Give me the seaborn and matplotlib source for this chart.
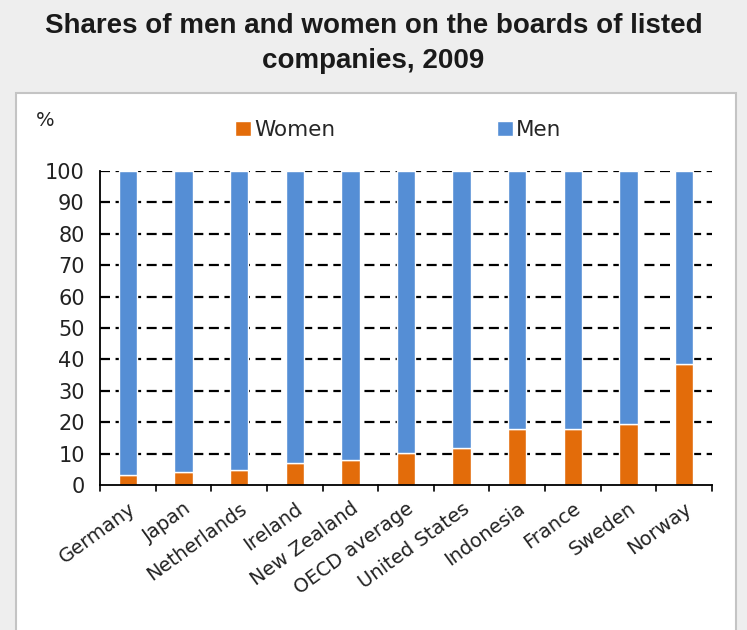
import matplotlib.pyplot as plt
import seaborn as sns
import pandas as pd
from matplotlib.patches import Rectangle, Patch

countries = ["Germany", "Japan", "Netherlands", "Ireland", "New Zealand",
             "OECD average", "United States", "Indonesia", "France",
             "Sweden", "Norway"]
women = [3.3, 4.0, 4.8, 7.1, 7.9, 10.2, 11.7, 17.8, 17.8, 19.5, 38.6]
men = [100 - w for w in women]

ORANGE = "#E36C0A"
BLUE = "#558ED5"

sns.set_style("white")
plt.rcParams["font.family"] = ["DejaVu Sans"]

df = pd.DataFrame({"Country": countries, "Women": women, "Men": men})

fig = plt.figure(figsize=(7.47, 6.3), dpi=100)
fig.patch.set_facecolor("#eeeeee")

# white inner panel
W, H = 747, 630
fig.patches.append(Rectangle((16 / W, -0.01), (736 - 16) / W, (H - 93) / H + 0.01,
                             transform=fig.transFigure, facecolor="white",
                             edgecolor="#c4c4c4", linewidth=1.5, zorder=-5))

title_font = ["Liberation Sans Narrow", "Liberation Sans", "DejaVu Sans"]
fig.text(0.5, 1 - 26 / H, "Shares of men and women on the boards of listed",
         ha="center", va="center", fontsize=20, fontweight="bold",
         family=title_font, color="#1a1a1a")
fig.text(0.5, 1 - 61 / H, "companies, 2009",
         ha="center", va="center", fontsize=20, fontweight="bold",
         family=title_font, color="#1a1a1a")

ax = fig.add_axes([100 / W, 1 - 485 / H, (712 - 100) / W, (485 - 171) / H])
ax.set_facecolor("none")

sns.barplot(data=df, x="Country", y="Women", color=ORANGE, width=0.33,
            saturation=1, ax=ax, zorder=3)
sns.barplot(data=df, x="Country", y="Men", bottom=df["Women"], color=BLUE,
            width=0.33, saturation=1, ax=ax, zorder=3)

ax.set_ylim(0, 100)
ax.set_xlim(-0.5, len(countries) - 0.5)
ax.set_yticks(range(0, 101, 10))
ax.set_xlabel("")
ax.set_ylabel("")
ax.set_xticks(range(len(countries)))
ax.set_xticklabels(countries, rotation=36, ha="right", rotation_mode="anchor",
                   fontsize=14, color="#222222")
ax.tick_params(axis="x", length=0, pad=10)
ax.tick_params(axis="y", labelsize=15, length=5, direction="out",
               width=1.2, colors="#222222", pad=6)

# tick marks between categories
for b in [i - 0.5 for i in range(len(countries) + 1)]:
    ax.plot([b, b], [0, -2.0], color="black", lw=1.2, clip_on=False, zorder=4)

for y in range(10, 101, 10):
    ax.axhline(y, color="black", lw=1.6, ls=(0, (4.5, 2.5)), zorder=2)

for s in ["top", "right"]:
    ax.spines[s].set_visible(False)
for s in ["left", "bottom"]:
    ax.spines[s].set_color("black")
    ax.spines[s].set_linewidth(1.3)
ax.spines["bottom"].set_zorder(5)

fig.text(36 / W, 1 - 121 / H, "%", fontsize=14, ha="left", va="center",
         color="#222222")

handles = [Patch(facecolor=ORANGE), Patch(facecolor=BLUE)]
fig.legend(handles, ["Women", "Men"], loc="center",
           bbox_to_anchor=(398 / W, 1 - 130 / H), ncol=2, frameon=False,
           fontsize=15.5, handlelength=0.75, handleheight=0.75,
           handletextpad=0.15, columnspacing=7.5)

fig.savefig("out.png", dpi=100, facecolor=fig.get_facecolor())
